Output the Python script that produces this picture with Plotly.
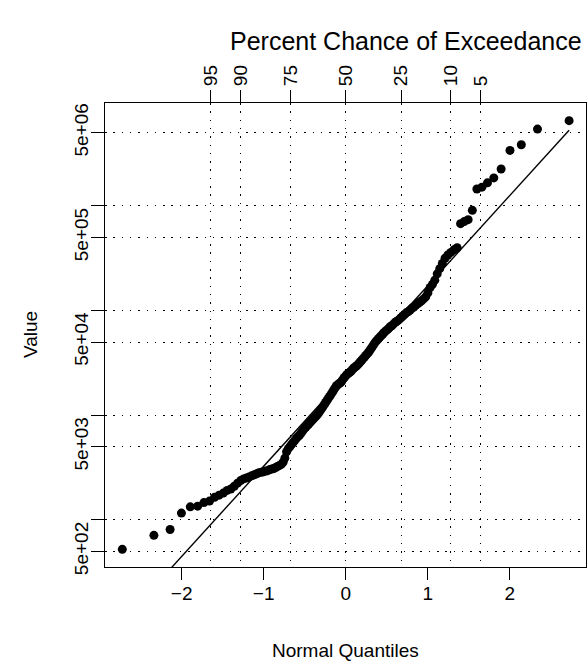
import plotly.graph_objects as go
from statistics import NormalDist

values = [
    522, 711, 807, 1160, 1330, 1350, 1460, 1510, 1640, 1720,
    1800, 1910, 1970, 2090, 2240, 2370, 2460, 2510, 2570, 2630,
    2690, 2750, 2820, 2850, 2880, 2920, 2950, 3020, 3060, 3090,
    3160, 3240, 3310, 3390, 3550, 3890, 4470, 4790, 5010, 5250,
    5500, 5750, 6030, 6240, 6460, 6760, 7080, 7410, 7670, 7940,
    8220, 8510, 8810, 9120, 9440, 9770, 10100, 10500, 11000, 11500,
    12000, 12600, 13200, 13800, 14500, 15100, 15800, 16600, 17400, 18200,
    19100, 19500, 20000, 20400, 21100, 22100, 22900, 23700, 24500, 25100,
    25700, 26300, 27200, 28200, 28800, 29500, 30200, 31300, 32400, 33500,
    34700, 35900, 37200, 38500, 39800, 41700, 43700, 45700, 47900, 50100,
    51900, 53700, 55600, 57500, 59600, 61700, 63800, 65300, 67600, 70000,
    71600, 74100, 76700, 78500, 80400, 83200, 86100, 89100, 92300, 95500,
    97700, 101000, 105000, 108000, 112000, 116000, 120000, 124000, 129000, 135000,
    148000, 166000, 178000, 195000, 224000, 251000, 282000, 316000, 339000, 359000,
    380000, 398000, 676000, 708000, 738000, 906000, 1450000, 1510000, 1660000, 1850000,
    2250000, 3390000, 3840000, 5420000, 6520000,
]

exceed_pct = [95, 90, 75, 50, 25, 10, 5]
x_ticks = [-2, -1, 0, 1, 2]
x_tick_labels = ["\u22122", "\u22121", "0", "1", "2"]
y_ticks = [500, 1000, 5000, 10000, 50000, 100000, 500000, 1000000, 5000000]
y_tick_labels = ["5e+02", "", "5e+03", "", "5e+04", "", "5e+05", "", "5e+06"]

# reference line (log10 mean and sd)
ref_mean_log10 = 4.374
ref_sd_log10 = 0.862

nd = NormalDist()
vals = sorted(values)
n = len(vals)
qx = [nd.inv_cdf((i + 0.5) / n) for i in range(n)]
top_q = [nd.inv_cdf(1 - p / 100.0) for p in exceed_pct]

xr = [-2.935, 2.93]
yr = [2.549, 6.983]

fig = go.Figure()
fig.add_trace(go.Scatter(
    x=qx, y=vals, mode="markers",
    marker=dict(color="black", size=9, line=dict(width=0)),
    hoverinfo="skip",
))
lx = [qx[0], qx[-1]]
ly = [10 ** (ref_mean_log10 + ref_sd_log10 * v) for v in lx]
fig.add_trace(go.Scatter(
    x=lx, y=ly, mode="lines", xaxis="x2", yaxis="y",
    line=dict(color="black", width=1.4), hoverinfo="skip",
))

font_main = "Liberation Sans, Arial, Helvetica, sans-serif"
dot = "1.5px,6.8px"

fig.update_layout(
    width=588, height=664,
    margin=dict(l=105, r=2, t=103, b=97),
    paper_bgcolor="white", plot_bgcolor="white",
    showlegend=False,
    font=dict(family=font_main, size=19, color="black"),
    xaxis=dict(
        range=xr, tickmode="array", tickvals=x_ticks, ticktext=x_tick_labels,
        ticks="outside", ticklen=12, tickwidth=1.3, tickcolor="black",
        showline=True, linecolor="black", linewidth=1.3, mirror=True,
        showgrid=False, zeroline=False,
        tickfont=dict(size=19), ticklabelstandoff=-3,
    ),
    xaxis2=dict(
        range=xr, overlaying="x", side="top", anchor="y",
        tickmode="array", tickvals=top_q, ticktext=[str(p) for p in exceed_pct],
        tickangle=-90, ticks="outside", ticklen=12, tickwidth=1.3, tickcolor="black",
        showline=False, showgrid=True, gridcolor="black", gridwidth=1, griddash=dot,
        zeroline=False, tickfont=dict(size=19),
    ),
    yaxis=dict(
        type="log", range=yr, tickmode="array", tickvals=y_ticks, ticktext=y_tick_labels,
        tickangle=-90, ticks="outside", ticklen=13, tickwidth=1.3, tickcolor="black",
        showline=True, linecolor="black", linewidth=1.3, mirror=True,
        showgrid=True, gridcolor="black", gridwidth=1, griddash=dot,
        zeroline=False, tickfont=dict(size=19), ticklabelstandoff=-5,
    ),
    annotations=[
        dict(text="Percent Chance of Exceedance", xref="paper", yref="paper",
             x=0.5, y=1, xshift=60, yshift=62, xanchor="center", yanchor="middle",
             showarrow=False, font=dict(size=25)),
        dict(text="Normal Quantiles", xref="paper", yref="paper",
             x=0.5, y=0, yshift=-83, xanchor="center", yanchor="middle",
             showarrow=False, font=dict(size=19)),
        dict(text="Value", xref="paper", yref="paper",
             x=0, y=0.5, xshift=-75, xanchor="center", yanchor="middle",
             textangle=-90, showarrow=False, font=dict(size=19)),
    ],
)

fig.write_html("out.html", config={"displayModeBar": False},
               post_script="document.body.style.margin='0';")
